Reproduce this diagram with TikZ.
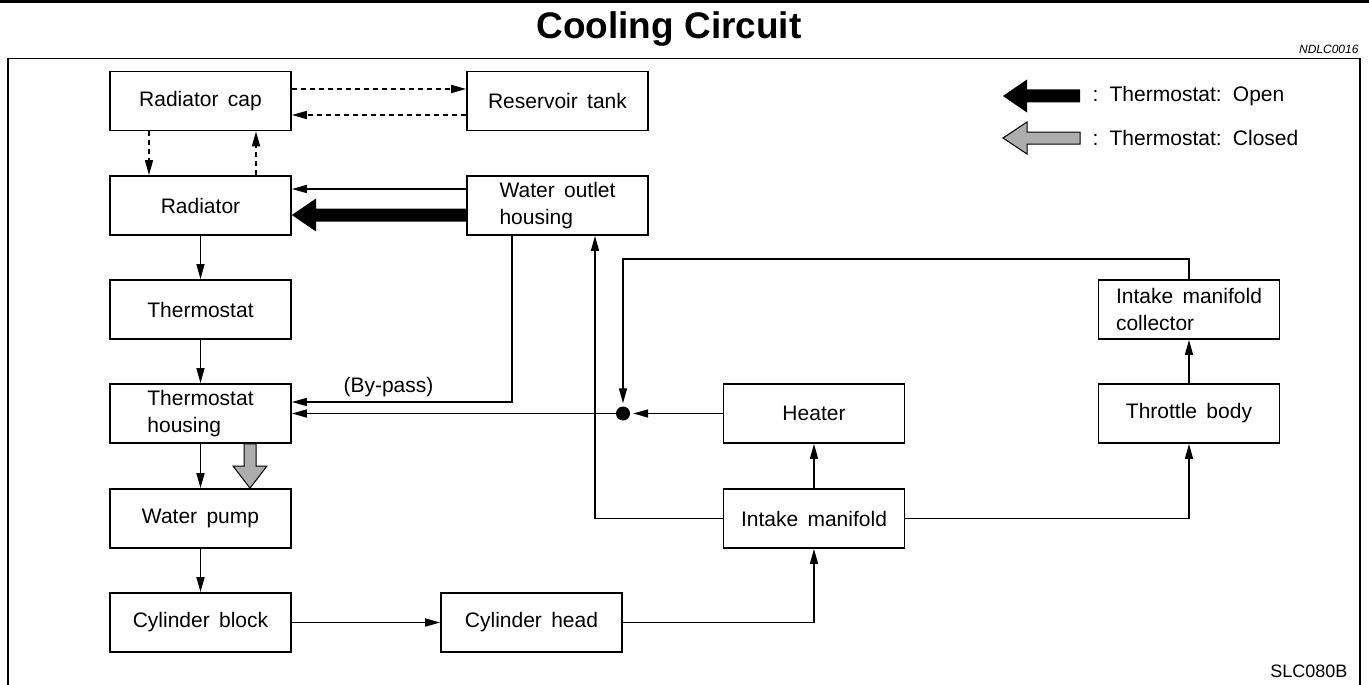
\documentclass[tikz,border=0pt]{standalone}
\usepackage{fontspec}
\setmainfont{Liberation Sans}[WordSpace=1.6]
\newfontfamily\titlefont{Liberation Sans}
\usetikzlibrary{arrows.meta}
\begin{document}
\begin{tikzpicture}[x=1pt,y=-1pt,
  box/.style={draw, line width=1.7pt, minimum width=181pt, minimum height=59pt,
    inner sep=0pt, align=left, font=\fontsize{21}{26.5}\selectfont},
  flow/.style={line width=1.5pt, -{Triangle[length=15pt,width=8pt]}},
  flowd/.style={flow, dash pattern=on 5pt off 4pt},
  fat/.style={fill=black},
  fatgray/.style={fill=black!32, draw=black, line width=1pt},
  lbl/.style={font=\fontsize{21}{25}\selectfont},
]
\useasboundingbox (0,0) rectangle (1369,685);
% header
\fill[black] (0,0) rectangle (1369,3.5);
\node[font=\titlefont\bfseries\fontsize{37}{40}\selectfont] (title) at (669,29) {Cooling Circuit};
\node[anchor=base east, font=\titlefont\itshape\fontsize{12}{14}\selectfont] (code) at (1362,54) {NDLC0016};
\draw[line width=1.3pt] (8,700) -- (8,58.5) -- (1360,58.5) -- (1360,700);
\node[anchor=base east, font=\titlefont\fontsize{18}{20}\selectfont] (fig) at (1351,677) {SLC080B};

% boxes
\node[box] (radcap)   at (200.5,101)   {Radiator cap};
\node[box] (reservoir) at (557.5,101)  {Reservoir tank};
\node[box] (radiator) at (200.5,205.5) {Radiator};
\node[box] (outlet)   at (557.5,205.5) {Water outlet\\housing};
\node[box] (thermo)   at (200.5,309.5) {Thermostat};
\node[box] (thhous)   at (200.5,413.5) {Thermostat\\housing};
\node[box] (pump)     at (200.5,518.5) {Water pump};
\node[box] (block)    at (200.5,622.5) {Cylinder block};
\node[box] (head)     at (531.5,622.5) {Cylinder head};
\node[box] (heater)   at (814,413.5)   {Heater};
\node[box] (intake)   at (814,518.5)   {Intake manifold};
\node[box] (throttle) at (1189,413.5)  {Throttle body};
\node[box] (collector) at (1189,309.5) {Intake manifold\\collector};
\node[circle, fill=black, minimum size=14pt, inner sep=0pt] (dot) at (623,413.5) {};

% dashed pressure lines
\draw[flowd] (radcap.east |- 0,89) -- (reservoir.west |- 0,89);
\draw[flowd] (reservoir.west |- 0,115) -- (radcap.east |- 0,115);
\draw[flowd] (radcap.south -| 149,0) -- (radiator.north -| 149,0);
\draw[flowd] (radiator.north -| 256,0) -- (radcap.south -| 256,0);

% outlet to radiator
\draw[flow] (outlet.west |- 0,189) -- (radiator.east |- 0,189);
\fill[fat] (radiator.east |- 0,215) -- (316,198.5) -- (316,208.5) -- (outlet.west |- 0,208.5)
  -- (outlet.west |- 0,221.5) -- (316,221.5) -- (316,231.5) -- cycle;

% left column
\draw[flow] (radiator) -- (thermo);
\draw[flow] (thermo) -- (thhous);
\draw[flow] (thhous) -- (pump);
\draw[flow] (pump) -- (block);
\draw[fatgray] (thhous.south -| 244,0) -- (244,466) -- (233,466) -- (pump.north -| 250,0)
  -- (267,466) -- (256,466) -- (thhous.south -| 256,0) -- cycle;

% by-pass
\draw[flow] (outlet.south -| 512,0) |- (thhous.east |- 0,402);
\node[lbl, anchor=base west] (bypass) at (340,392) {(By-pass)};

% heater return
\draw[flow, shorten >=3pt] (heater.west) -- (dot);
\draw[flow] (dot) -- (thhous.east |- dot);
\draw[flow, shorten >=3pt] (collector.north) -- (collector.north |- 0,259) -| (dot.north);

% engine path
\draw[flow] (block) -- (head);
\draw[flow] (head.east) -| (intake.south);
\draw[flow] (intake) -- (heater);
\draw[flow] (intake.east) -| (throttle.south);
\draw[flow] (throttle) -- (collector);
\draw[flow] (intake.west) -| (outlet.south -| 595,0);

% legend
\fill[fat] (1003,96) -- (1027,79.5) -- (1027,89.5) -- (1080,89.5) -- (1080,102.5)
  -- (1027,102.5) -- (1027,112.5) -- cycle;
\node[lbl, anchor=west] (lopen) at (1089,96) {: Thermostat: Open};
\draw[fatgray] (1003,138) -- (1027,122) -- (1027,132) -- (1080,132) -- (1080,144)
  -- (1027,144) -- (1027,154) -- cycle;
\node[lbl, anchor=west] (lclosed) at (1089,138) {: Thermostat: Closed};
\end{tikzpicture}
\end{document}
